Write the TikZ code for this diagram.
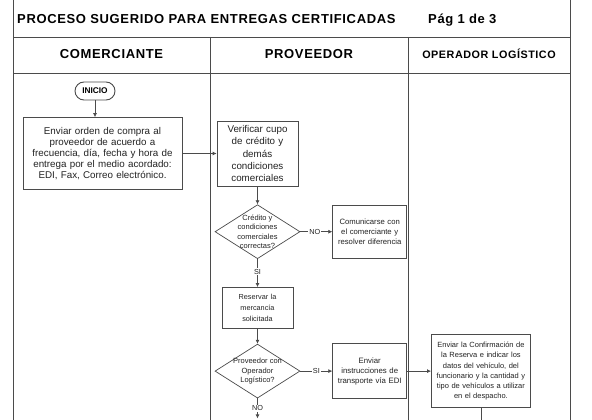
\documentclass[tikz,border=0pt]{standalone}
\usepackage{fontspec}
\setmainfont{Liberation Sans}
\newfontfamily\headfont[LetterSpace=5]{Liberation Sans}
\usepackage{xcolor}
\usetikzlibrary{arrows.meta,positioning,calc,shapes.geometric}
\definecolor{linegray}{RGB}{75,75,75}
\definecolor{textgray}{RGB}{35,35,35}

\tikzset{
	frame/.style={draw=linegray, line width=0.8pt},
	box/.style={draw=linegray, line width=0.7pt, fill=white, align=center, inner sep=1pt, text=textgray},
	decision/.style={diamond, draw=linegray, line width=0.7pt, fill=white, minimum width=85pt, minimum height=54pt, inner sep=0pt},
	dtext/.style={align=center, inner sep=0pt, text=textgray, font=\fontsize{7.5}{9.3}\selectfont},
	flow/.style={draw=linegray, line width=0.7pt, -{Latex[length=4pt,width=4pt]}},
	tag/.style={fill=white, inner sep=1pt, text=textgray, font=\fontsize{7.3}{8}\selectfont}
}

\begin{document}
\begin{tikzpicture}[x=1pt, y=-1pt]
	\useasboundingbox (0,0) rectangle (592,420);
	
	% marco de la hoja
	\draw[frame] (13,0) -- (13,420);
	\draw[frame] (570,0) -- (570,420);
	\draw[frame] (13,37) -- (570,37);
	\draw[frame] (13,73) -- (570,73);
	\draw[frame] (210,37) -- (210,420);
	\draw[frame] (408,37) -- (408,420);
	
	% titulo y carriles
	\node[anchor=base west, inner sep=0pt, font=\headfont\bfseries\fontsize{13}{14}\selectfont] (title) at (17,24) {PROCESO SUGERIDO PARA ENTREGAS CERTIFICADAS};
	\node[anchor=base west, inner sep=0pt, font=\headfont\bfseries\fontsize{13}{14}\selectfont] (page) at (428,24) {Pág 1 de 3};
	\node[font=\headfont\bfseries\fontsize{13}{14}\selectfont] (lane1) at (111.5,54.5) {COMERCIANTE};
	\node[font=\headfont\bfseries\fontsize{13}{14}\selectfont] (lane2) at (309,54.5) {PROVEEDOR};
	\node[font=\headfont\bfseries\fontsize{10.8}{12}\selectfont] (lane3) at (489,54) {OPERADOR LOGÍSTICO};
	
	% comerciante
	\node[draw=linegray, line width=0.9pt, rounded corners=9pt, minimum width=40pt, minimum height=18pt, inner sep=1pt, font=\bfseries\fontsize{8.3}{9}\selectfont] (inicio) at (95,91) {INICIO};
	\node[box, minimum width=159pt, minimum height=72pt, text width=155pt, font=\fontsize{9.8}{11}\selectfont] (orden) at (102.5,153.5) {Enviar orden de compra al\\proveedor de acuerdo a\\frecuencia, día, fecha y hora de\\entrega por el medio acordado:\\EDI, Fax, Correo electrónico.};
	
	% proveedor
	\node[box, minimum width=81pt, minimum height=65pt, text width=78pt, font=\fontsize{9.8}{12.2}\selectfont] (cupo) at (257.5,153.5) {Verificar cupo\\de crédito y\\demás\\condiciones\\comerciales};
	\node[decision, below=18pt of cupo] (credito) {};
	\node[dtext] (creditot) at (credito) {Crédito y\\condiciones\\comerciales\\correctas?};
	\node[box, right=32pt of credito, minimum width=73pt, minimum height=53pt, text width=72pt, font=\fontsize{7.7}{10}\selectfont] (comunicar) {Comunicarse con\\el comerciante y\\resolver diferencia};
	\node[box, below=28pt of credito, minimum width=71pt, minimum height=41pt, text width=68pt, font=\fontsize{7.3}{10.8}\selectfont] (reservar) {Reservar la\\mercancía\\solicitada};
	\node[decision, below=15pt of reservar] (operador) {};
	\node[dtext] (operadort) at (operador) {Proveedor con\\Operador\\Logístico?};
	\node[box, right=32pt of operador, minimum width=73pt, minimum height=55pt, text width=72pt, font=\fontsize{7.8}{9.9}\selectfont] (instruc) {Enviar\\instrucciones de\\transporte vía EDI};
	\coordinate (nofin) at ($(operador.south)+(0,20)$);
	
	% operador logistico
	\node[box, right=24pt of instruc, minimum width=98pt, minimum height=73pt, text width=97pt, font=\fontsize{7.5}{10.1}\selectfont] (confirma) {Enviar la Confirmación de\\la Reserva e indicar los\\datos del vehículo, del\\funcionario y la cantidad y\\tipo de vehículos a utilizar\\en el despacho.};
	\coordinate (sigue) at (confirma.south |- 0,420);
	
	\draw[flow] (inicio) -- (inicio |- orden.north);
	\draw[flow] (orden) -- (cupo);
	\draw[flow] (cupo) -- (credito);
	\draw[flow] (credito) -- node[tag, pos=0.45] {NO} (comunicar);
	\draw[flow] (credito) -- node[tag, pos=0.45] {SI} (reservar);
	\draw[flow] (reservar) -- (operador);
	\draw[flow] (operador) -- node[tag, pos=0.5] {SI} (instruc);
	\draw[flow] (operador) -- node[tag, pos=0.5] {NO} (nofin);
	\draw[flow] (instruc) -- (confirma);
	\draw[draw=linegray, line width=0.7pt] (confirma) -- (sigue);
\end{tikzpicture}
\end{document}
